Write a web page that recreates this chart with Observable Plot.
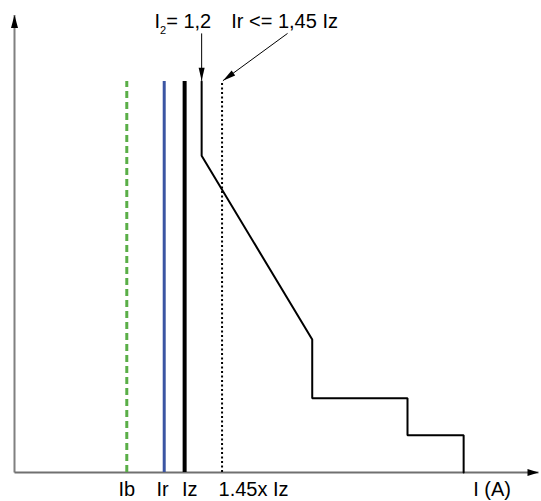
<!DOCTYPE html>
<html><head><meta charset="utf-8">
<script src="https://cdn.jsdelivr.net/npm/d3@7"></script>
<script src="https://cdn.jsdelivr.net/npm/@observablehq/plot@0.6"></script>
<style>html,body{margin:0;padding:0;background:#fff;} svg{display:block;}</style>
</head><body><div id="chart"></div>
<script>
// Reference currents (schematic units) and their labels
const refNames = ["Ib", "Ir", "Iz", "1.45x Iz"];
const refCurrents = [66, 88, 100, 122];
const refLabelX = [66, 87, 103, 140.5];
// Tripping curve of the protective device (current, time)
const curveI = [110, 110, 175, 175, 231, 231, 264, 264];
const curveT = [100, 81, 34, 19, 19, 9.5, 9.5, 0];
// Axis extents
const axisMaxI = 308;
const axisMaxT = 117;
const axisTitle = "I (A)";
const axisTitleX = 280.7;
// Top annotations
const noteTexts = ["I₂= 1,2", "Ir <= 1,45 Iz"];
const noteTextX = [82.3, 127.4];
const noteTextT = 115.2;
const noteFromI = [110, 160.5];
const noteToI = [110, 122.5];
const noteFromT = 112.3;
const noteToT = 100.2;

const curve = curveI.map((i, k) => ({i, t: curveT[k]}));
const refs = refNames.map((n, k) => ({name: n, i: refCurrents[k], lx: refLabelX[k]}));
const bottomLabels = refs.map(r => ({text: r.name, x: r.lx})).concat([{text: axisTitle, x: axisTitleX}]);
const notes = noteTexts.map((t, k) => ({text: t, x: noteTextX[k], fx: noteFromI[k], tx: noteToI[k]}));

function head(len, wid) {
  return (color, context) => {
    const m = d3.create("svg:marker")
      .attr("viewBox", `0 0 ${len} ${wid}`)
      .attr("markerWidth", len).attr("markerHeight", wid)
      .attr("markerUnits", "userSpaceOnUse")
      .attr("orient", "auto")
      .attr("refX", len).attr("refY", wid / 2)
      .attr("overflow", "visible");
    m.append("path").attr("d", `M0,0L${len},${wid / 2}L0,${wid}Z`).attr("fill", "#000").attr("stroke", "none");
    return m.node();
  };
}

const font = "'Liberation Sans', Arial, sans-serif";

const chart = Plot.plot({
  width: 541,
  height: 501,
  margin: 0,
  x: {domain: [0, axisMaxI], range: [14, 538], axis: null},
  y: {domain: [0, 100], range: [472, 81], axis: null},
  style: {fontFamily: font, background: "#fff", overflow: "visible"},
  marks: [
    // axes
    Plot.link([{x1: 0, y1: 0, x2: 0, y2: axisMaxT}], {x1: "x1", y1: "y1", x2: "x2", y2: "y2", stroke: "#808080", strokeWidth: 2, markerEnd: head(13, 7)}),
    Plot.link([{x1: 0, y1: 0, x2: axisMaxI, y2: 0}], {x1: "x1", y1: "y1", x2: "x2", y2: "y2", stroke: "#707070", strokeWidth: 2, markerEnd: head(11, 7)}),
    // reference lines
    Plot.ruleX(refs.filter(r => r.name === "Ib"), {x: "i", y1: 0, y2: 100, stroke: "#5aae47", strokeWidth: 3, strokeDasharray: "7,4"}),
    Plot.ruleX(refs.filter(r => r.name === "Ir"), {x: "i", y1: 0, y2: 100, stroke: "#3b55a3", strokeWidth: 3}),
    Plot.ruleX(refs.filter(r => r.name === "Iz"), {x: "i", y1: 0, y2: 100, stroke: "#000", strokeWidth: 4}),
    Plot.ruleX(refs.filter(r => r.name === "1.45x Iz"), {x: "i", y1: 0, y2: 100, stroke: "#000", strokeWidth: 2, strokeDasharray: "2,2.5"}),
    // tripping curve
    Plot.line(curve, {x: "i", y: "t", stroke: "#000", strokeWidth: 2, strokeLinejoin: "miter"}),
    // annotation arrows
    Plot.link(notes, {x1: "fx", y1: noteFromT, x2: "tx", y2: noteToT, stroke: "#000", strokeWidth: 1, markerEnd: head(13, 6)}),
    // texts
    Plot.text(notes, {x: "x", y: noteTextT, text: "text", textAnchor: "start", fontSize: 20, fill: "#000"}),
    Plot.text(bottomLabels, {x: "x", y: 0, text: "text", dy: 17, fontSize: 20, fill: "#000"})
  ]
});

// subscript for I₂
d3.select(chart).selectAll("text").filter(function () { return this.textContent === noteTexts[0]; })
  .each(function () {
    const t = d3.select(this);
    const parts = noteTexts[0].split("₂");
    t.text(parts[0]);
    t.append("tspan").attr("font-size", 11).attr("dy", 6).text("2");
    t.append("tspan").attr("dy", -6).text(parts[1]);
  });

document.getElementById("chart").appendChild(chart);
</script>
</body></html>
